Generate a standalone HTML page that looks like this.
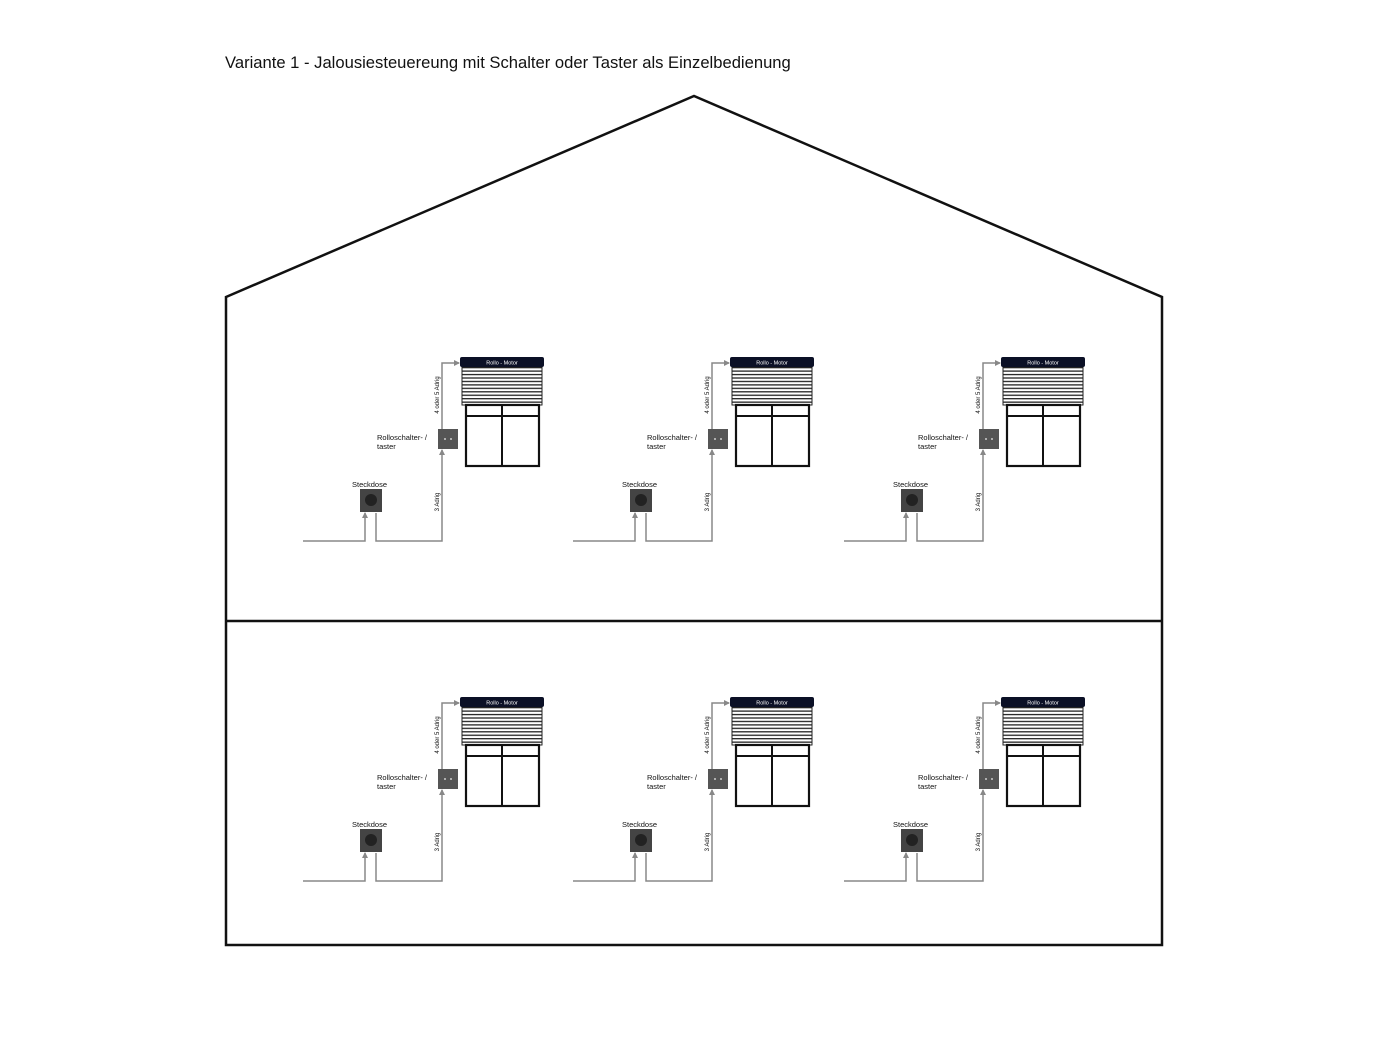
<!DOCTYPE html>
<html><head><meta charset="utf-8"><style>
html,body{margin:0;padding:0;background:#fff;width:1388px;height:1041px;overflow:hidden}
svg{display:block;font-family:"Liberation Sans",sans-serif}
</style></head><body>
<svg width="1388" height="1041" viewBox="0 0 1388 1041" xmlns="http://www.w3.org/2000/svg">
<defs>
<marker id="a" markerWidth="6" markerHeight="6" refX="5" refY="3" orient="auto" markerUnits="userSpaceOnUse"><path d="M0,0 L6,3 L0,6 z" fill="#888"/></marker>
<pattern id="sl" width="10" height="3.45" patternUnits="userSpaceOnUse" y="367"><rect width="10" height="3.45" fill="#fff"/><rect y="0" width="10" height="1.3" fill="#222"/></pattern>
</defs>
<text x="225" y="68" font-size="16.6" fill="#111">Variante 1 - Jalousiesteuereung mit Schalter oder Taster als Einzelbedienung</text>
<path d="M226 297 L694 96 L1162 297 V945 H226 Z" fill="none" stroke="#111" stroke-width="2.5"/>
<line x1="226" y1="621" x2="1162" y2="621" stroke="#111" stroke-width="2.5"/>

<g>
<path d="M303 541 H365 V513" fill="none" stroke="#888" stroke-width="1.5" marker-end="url(#a)"/>
<path d="M376 513 V541 H442 V450" fill="none" stroke="#888" stroke-width="1.5" marker-end="url(#a)"/>
<path d="M442 429 V363 H459" fill="none" stroke="#888" stroke-width="1.5" marker-end="url(#a)"/>
<rect x="462" y="366" width="80" height="39" fill="url(#sl)" stroke="#222" stroke-width="1"/>
<rect x="460" y="357" width="84" height="10" rx="2" fill="#0b1026"/>
<text x="502" y="364.5" font-size="5.5" fill="#fff" text-anchor="middle">Rollo - Motor</text>
<rect x="466" y="405" width="73" height="61" fill="none" stroke="#111" stroke-width="2.2"/>
<line x1="466" y1="416" x2="539" y2="416" stroke="#111" stroke-width="2"/>
<line x1="502" y1="405" x2="502" y2="466" stroke="#111" stroke-width="2"/>
<rect x="438" y="429" width="20" height="20" fill="#555"/>
<circle cx="445" cy="439" r="1" fill="#ccc"/><circle cx="451" cy="439" r="1" fill="#ccc"/>
<rect x="360" y="489" width="22" height="23" fill="#444"/>
<circle cx="371" cy="500" r="6" fill="#222"/>
<text x="352" y="487" font-size="7.5" fill="#111">Steckdose</text>
<text x="377" y="440" font-size="7.5" fill="#111">Rolloschalter- /</text>
<text x="377" y="449" font-size="7.5" fill="#111">taster</text>
<text transform="translate(439,502) rotate(-90)" font-size="6" fill="#111" text-anchor="middle">3 Adrig</text>
<text transform="translate(439,395) rotate(-90)" font-size="6" fill="#111" text-anchor="middle">4 oder 5 Adrig</text>
</g>

<g transform="translate(270,0)">
<path d="M303 541 H365 V513" fill="none" stroke="#888" stroke-width="1.5" marker-end="url(#a)"/>
<path d="M376 513 V541 H442 V450" fill="none" stroke="#888" stroke-width="1.5" marker-end="url(#a)"/>
<path d="M442 429 V363 H459" fill="none" stroke="#888" stroke-width="1.5" marker-end="url(#a)"/>
<rect x="462" y="366" width="80" height="39" fill="url(#sl)" stroke="#222" stroke-width="1"/>
<rect x="460" y="357" width="84" height="10" rx="2" fill="#0b1026"/>
<text x="502" y="364.5" font-size="5.5" fill="#fff" text-anchor="middle">Rollo - Motor</text>
<rect x="466" y="405" width="73" height="61" fill="none" stroke="#111" stroke-width="2.2"/>
<line x1="466" y1="416" x2="539" y2="416" stroke="#111" stroke-width="2"/>
<line x1="502" y1="405" x2="502" y2="466" stroke="#111" stroke-width="2"/>
<rect x="438" y="429" width="20" height="20" fill="#555"/>
<circle cx="445" cy="439" r="1" fill="#ccc"/><circle cx="451" cy="439" r="1" fill="#ccc"/>
<rect x="360" y="489" width="22" height="23" fill="#444"/>
<circle cx="371" cy="500" r="6" fill="#222"/>
<text x="352" y="487" font-size="7.5" fill="#111">Steckdose</text>
<text x="377" y="440" font-size="7.5" fill="#111">Rolloschalter- /</text>
<text x="377" y="449" font-size="7.5" fill="#111">taster</text>
<text transform="translate(439,502) rotate(-90)" font-size="6" fill="#111" text-anchor="middle">3 Adrig</text>
<text transform="translate(439,395) rotate(-90)" font-size="6" fill="#111" text-anchor="middle">4 oder 5 Adrig</text>
</g>

<g transform="translate(541,0)">
<path d="M303 541 H365 V513" fill="none" stroke="#888" stroke-width="1.5" marker-end="url(#a)"/>
<path d="M376 513 V541 H442 V450" fill="none" stroke="#888" stroke-width="1.5" marker-end="url(#a)"/>
<path d="M442 429 V363 H459" fill="none" stroke="#888" stroke-width="1.5" marker-end="url(#a)"/>
<rect x="462" y="366" width="80" height="39" fill="url(#sl)" stroke="#222" stroke-width="1"/>
<rect x="460" y="357" width="84" height="10" rx="2" fill="#0b1026"/>
<text x="502" y="364.5" font-size="5.5" fill="#fff" text-anchor="middle">Rollo - Motor</text>
<rect x="466" y="405" width="73" height="61" fill="none" stroke="#111" stroke-width="2.2"/>
<line x1="466" y1="416" x2="539" y2="416" stroke="#111" stroke-width="2"/>
<line x1="502" y1="405" x2="502" y2="466" stroke="#111" stroke-width="2"/>
<rect x="438" y="429" width="20" height="20" fill="#555"/>
<circle cx="445" cy="439" r="1" fill="#ccc"/><circle cx="451" cy="439" r="1" fill="#ccc"/>
<rect x="360" y="489" width="22" height="23" fill="#444"/>
<circle cx="371" cy="500" r="6" fill="#222"/>
<text x="352" y="487" font-size="7.5" fill="#111">Steckdose</text>
<text x="377" y="440" font-size="7.5" fill="#111">Rolloschalter- /</text>
<text x="377" y="449" font-size="7.5" fill="#111">taster</text>
<text transform="translate(439,502) rotate(-90)" font-size="6" fill="#111" text-anchor="middle">3 Adrig</text>
<text transform="translate(439,395) rotate(-90)" font-size="6" fill="#111" text-anchor="middle">4 oder 5 Adrig</text>
</g>

<g transform="translate(0,340)">
<path d="M303 541 H365 V513" fill="none" stroke="#888" stroke-width="1.5" marker-end="url(#a)"/>
<path d="M376 513 V541 H442 V450" fill="none" stroke="#888" stroke-width="1.5" marker-end="url(#a)"/>
<path d="M442 429 V363 H459" fill="none" stroke="#888" stroke-width="1.5" marker-end="url(#a)"/>
<rect x="462" y="366" width="80" height="39" fill="url(#sl)" stroke="#222" stroke-width="1"/>
<rect x="460" y="357" width="84" height="10" rx="2" fill="#0b1026"/>
<text x="502" y="364.5" font-size="5.5" fill="#fff" text-anchor="middle">Rollo - Motor</text>
<rect x="466" y="405" width="73" height="61" fill="none" stroke="#111" stroke-width="2.2"/>
<line x1="466" y1="416" x2="539" y2="416" stroke="#111" stroke-width="2"/>
<line x1="502" y1="405" x2="502" y2="466" stroke="#111" stroke-width="2"/>
<rect x="438" y="429" width="20" height="20" fill="#555"/>
<circle cx="445" cy="439" r="1" fill="#ccc"/><circle cx="451" cy="439" r="1" fill="#ccc"/>
<rect x="360" y="489" width="22" height="23" fill="#444"/>
<circle cx="371" cy="500" r="6" fill="#222"/>
<text x="352" y="487" font-size="7.5" fill="#111">Steckdose</text>
<text x="377" y="440" font-size="7.5" fill="#111">Rolloschalter- /</text>
<text x="377" y="449" font-size="7.5" fill="#111">taster</text>
<text transform="translate(439,502) rotate(-90)" font-size="6" fill="#111" text-anchor="middle">3 Adrig</text>
<text transform="translate(439,395) rotate(-90)" font-size="6" fill="#111" text-anchor="middle">4 oder 5 Adrig</text>
</g>

<g transform="translate(270,340)">
<path d="M303 541 H365 V513" fill="none" stroke="#888" stroke-width="1.5" marker-end="url(#a)"/>
<path d="M376 513 V541 H442 V450" fill="none" stroke="#888" stroke-width="1.5" marker-end="url(#a)"/>
<path d="M442 429 V363 H459" fill="none" stroke="#888" stroke-width="1.5" marker-end="url(#a)"/>
<rect x="462" y="366" width="80" height="39" fill="url(#sl)" stroke="#222" stroke-width="1"/>
<rect x="460" y="357" width="84" height="10" rx="2" fill="#0b1026"/>
<text x="502" y="364.5" font-size="5.5" fill="#fff" text-anchor="middle">Rollo - Motor</text>
<rect x="466" y="405" width="73" height="61" fill="none" stroke="#111" stroke-width="2.2"/>
<line x1="466" y1="416" x2="539" y2="416" stroke="#111" stroke-width="2"/>
<line x1="502" y1="405" x2="502" y2="466" stroke="#111" stroke-width="2"/>
<rect x="438" y="429" width="20" height="20" fill="#555"/>
<circle cx="445" cy="439" r="1" fill="#ccc"/><circle cx="451" cy="439" r="1" fill="#ccc"/>
<rect x="360" y="489" width="22" height="23" fill="#444"/>
<circle cx="371" cy="500" r="6" fill="#222"/>
<text x="352" y="487" font-size="7.5" fill="#111">Steckdose</text>
<text x="377" y="440" font-size="7.5" fill="#111">Rolloschalter- /</text>
<text x="377" y="449" font-size="7.5" fill="#111">taster</text>
<text transform="translate(439,502) rotate(-90)" font-size="6" fill="#111" text-anchor="middle">3 Adrig</text>
<text transform="translate(439,395) rotate(-90)" font-size="6" fill="#111" text-anchor="middle">4 oder 5 Adrig</text>
</g>

<g transform="translate(541,340)">
<path d="M303 541 H365 V513" fill="none" stroke="#888" stroke-width="1.5" marker-end="url(#a)"/>
<path d="M376 513 V541 H442 V450" fill="none" stroke="#888" stroke-width="1.5" marker-end="url(#a)"/>
<path d="M442 429 V363 H459" fill="none" stroke="#888" stroke-width="1.5" marker-end="url(#a)"/>
<rect x="462" y="366" width="80" height="39" fill="url(#sl)" stroke="#222" stroke-width="1"/>
<rect x="460" y="357" width="84" height="10" rx="2" fill="#0b1026"/>
<text x="502" y="364.5" font-size="5.5" fill="#fff" text-anchor="middle">Rollo - Motor</text>
<rect x="466" y="405" width="73" height="61" fill="none" stroke="#111" stroke-width="2.2"/>
<line x1="466" y1="416" x2="539" y2="416" stroke="#111" stroke-width="2"/>
<line x1="502" y1="405" x2="502" y2="466" stroke="#111" stroke-width="2"/>
<rect x="438" y="429" width="20" height="20" fill="#555"/>
<circle cx="445" cy="439" r="1" fill="#ccc"/><circle cx="451" cy="439" r="1" fill="#ccc"/>
<rect x="360" y="489" width="22" height="23" fill="#444"/>
<circle cx="371" cy="500" r="6" fill="#222"/>
<text x="352" y="487" font-size="7.5" fill="#111">Steckdose</text>
<text x="377" y="440" font-size="7.5" fill="#111">Rolloschalter- /</text>
<text x="377" y="449" font-size="7.5" fill="#111">taster</text>
<text transform="translate(439,502) rotate(-90)" font-size="6" fill="#111" text-anchor="middle">3 Adrig</text>
<text transform="translate(439,395) rotate(-90)" font-size="6" fill="#111" text-anchor="middle">4 oder 5 Adrig</text>
</g>
</svg>
</body></html>
